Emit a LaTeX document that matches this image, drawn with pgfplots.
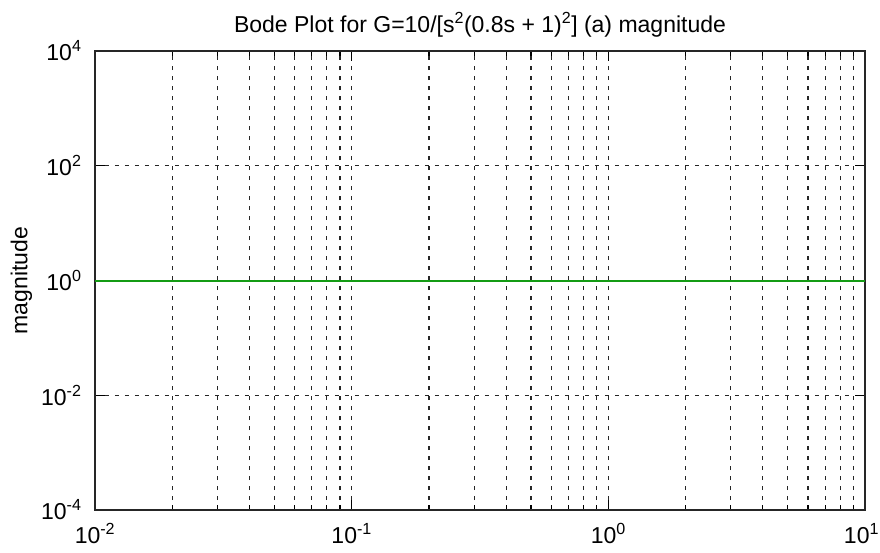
\documentclass[border=0pt]{standalone}
\usepackage{pgfplots}
\pgfplotsset{compat=1.18}
\usepackage{fontspec}
\setmainfont{Liberation Sans}
\definecolor{mgreen}{RGB}{20,155,20}
\begin{document}
\begin{tikzpicture}
\begin{axis}[
  at={(0pt,0pt)}, anchor=south west,
  scale only axis, width=770pt, height=459pt,
  xmode=log, ymode=log,
  xmin=0.01, xmax=10, ymin=1e-4, ymax=1e4,
  xtick={0.01,0.1,1,10},
  xticklabels={10\textsuperscript{-2},10\textsuperscript{-1},10\textsuperscript{0},10\textsuperscript{1}\kern7pt},
  ytick={1e-4,1e-2,1,1e2,1e4},
  yticklabels={10\textsuperscript{-4},10\textsuperscript{-2},10\textsuperscript{0},10\textsuperscript{2},10\textsuperscript{4}},
  minor xtick={0.02,0.03,0.04,0.05,0.06,0.07,0.08,0.09,0.2,0.3,0.4,0.5,0.6,0.7,0.8,0.9,2,3,4,5,6,7,8,9},
  minor ytick={},
  ymajorgrids, xmajorgrids, xminorgrids,
  major grid style={black!85, line width=1.2pt, dash pattern=on 4pt off 6pt},
  minor grid style={black!85, line width=1.2pt, dash pattern=on 4pt off 6pt},
  tick align=inside, tick pos=both,
  major tick length=10pt, minor tick length=5pt,
  tick style={black, line width=1.2pt},
  axis line style={black!85, line width=2pt},
  tick label style={font=\fontsize{23}{25}\selectfont},
  xticklabel style={yshift=-10pt},
  yticklabel style={xshift=-10pt},
  title={Bode Plot for G=10/[s\textsuperscript{2}(0.8s + 1)\textsuperscript{2}] (a) magnitude},
  title style={font=\fontsize{23}{25}\selectfont, yshift=4pt},
  ylabel={magnitude},
  ylabel style={font=\fontsize{23}{25}\selectfont, at={(axis description cs:-0.077,0.5)}, anchor=south},
]
\addplot[mgreen, line width=2pt] coordinates {(0.01,1) (10,1)};
\end{axis}
\pgfresetboundingbox
\path (-95pt,-42pt) rectangle (785pt,510pt);
\end{tikzpicture}
\end{document}
